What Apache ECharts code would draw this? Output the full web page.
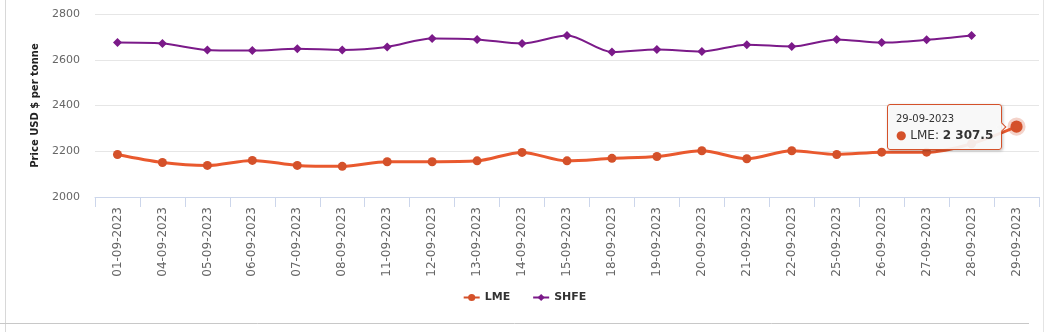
<!DOCTYPE html>
<html>
<head>
<meta charset="utf-8">
<script src="https://cdn.jsdelivr.net/npm/echarts@6/dist/echarts.min.js"></script>
<style>
html,body{margin:0;padding:0;background:#fff;}
#chart{width:1049px;height:332px;}
</style>
</head>
<body>
<div id="chart"></div>
<script>
const categories = ["01-09-2023","04-09-2023","05-09-2023","06-09-2023","07-09-2023","08-09-2023","11-09-2023","12-09-2023","13-09-2023","14-09-2023","15-09-2023","18-09-2023","19-09-2023","20-09-2023","21-09-2023","22-09-2023","25-09-2023","26-09-2023","27-09-2023","28-09-2023","29-09-2023"];
const lmeValues = [2186,2151,2138,2160,2138,2134,2154,2154,2158,2195,2158,2169,2177,2202,2167,2202,2186,2196,2196,2233,2307.5];
const shfeValues = [2675,2671,2643,2640,2648,2643,2656,2693,2689,2671,2706,2634,2645,2636,2666,2658,2689,2675,2687,2706,null];
const yTicks = {min:2000, max:2800, interval:200};

const LME_COLOR = '#d4512a';
const SHFE_COLOR = '#7b1a89';
const FONT = 'DejaVu Sans';

const chart = echarts.init(document.getElementById('chart'), null, {renderer:'canvas'});
const option = {
  animation:false,
  textStyle:{fontFamily:FONT},
  grid:{left:95, right:10, top:14, bottom:135, containLabel:false},
  graphic:[
    {type:'line', shape:{x1:5.5,y1:0,x2:5.5,y2:332}, style:{stroke:'#d8d8d8', lineWidth:1}},
    {type:'line', shape:{x1:1043.5,y1:0,x2:1043.5,y2:332}, style:{stroke:'#e4e4e4', lineWidth:1}},
    {type:'line', shape:{x1:0,y1:323.5,x2:1029,y2:323.5}, style:{stroke:'#c8c8c8', lineWidth:1}}
  ],
  tooltip:{
    trigger:'item',
    alwaysShowContent:true,
    position:'left',
    backgroundColor:'rgba(247,247,247,0.92)',
    borderColor:LME_COLOR,
    borderWidth:1,
    borderRadius:3,
    padding:[5,8,5,8],
    extraCssText:'box-shadow:1px 1px 3px rgba(0,0,0,0.25);',
    textStyle:{fontFamily:FONT, fontSize:12, color:'#333'},
    formatter:function(p){
      const v = p.value;
      const s = String(v).split('.');
      const intPart = s[0].replace(/\B(?=(\d{3})+(?!\d))/g,' ');
      const txt = intPart + (s[1] ? '.' + s[1] : '');
      return '<div style="font-family:DejaVu Sans;line-height:17px"><span style="font-size:10px">'+categories[p.dataIndex]+'</span><br/>'+
        '<span style="color:'+p.color+';font-size:12px">\u25CF</span> '+p.seriesName+': <b>'+txt+'</b></div>';
    }
  },
  legend:{
    bottom:24,
    left:'center',
    itemGap:22,
    itemWidth:16,
    itemHeight:9,
    textStyle:{fontFamily:FONT, fontSize:11, fontWeight:'bold', color:'#333'},
    data:['LME','SHFE']
  },
  xAxis:{
    type:'category',
    data:categories,
    boundaryGap:true,
    axisLine:{lineStyle:{color:'#ccd6eb'}},
    axisTick:{show:true, length:10, lineStyle:{color:'#ccd6eb'}},
    axisLabel:{rotate:90, fontSize:12, color:'#666', margin:10, fontFamily:FONT, interval:0},
    splitLine:{show:false}
  },
  yAxis:{
    type:'value',
    min:yTicks.min, max:yTicks.max, interval:yTicks.interval,
    name:'Price USD $ per tonne',
    nameLocation:'middle',
    nameGap:55,
    nameTextStyle:{fontFamily:FONT, fontSize:10, fontWeight:'bold', color:'#222'},
    axisLine:{show:false},
    axisTick:{show:false},
    axisLabel:{fontSize:11, color:'#666', margin:15, fontFamily:FONT, formatter:function(v){return String(v);}},
    splitLine:{lineStyle:{color:'#e6e6e6'}}
  },
  series:[
    {
      name:'LME',
      type:'line',
      data:lmeValues,
      smooth:0.3,
      symbol:'circle',
      symbolSize:9,
      color:LME_COLOR,
      lineStyle:{width:3, color:LME_COLOR},
      itemStyle:{color:LME_COLOR},
      emphasis:{
        focus:'none',
        scale:1.35,
        lineStyle:{width:3},
        itemStyle:{color:LME_COLOR, borderColor:'rgba(212,81,42,0.25)', borderWidth:6}
      },
      z:3
    },
    {
      name:'SHFE',
      type:'line',
      data:shfeValues,
      smooth:0.3,
      symbol:'diamond',
      symbolSize:9,
      color:SHFE_COLOR,
      lineStyle:{width:2, color:SHFE_COLOR},
      itemStyle:{color:SHFE_COLOR},
      emphasis:{disabled:true},
      z:2
    }
  ]
};
chart.setOption(option);
chart.dispatchAction({type:'highlight', seriesIndex:0, dataIndex:20});
chart.dispatchAction({type:'showTip', seriesIndex:0, dataIndex:20});
</script>
</body>
</html>
